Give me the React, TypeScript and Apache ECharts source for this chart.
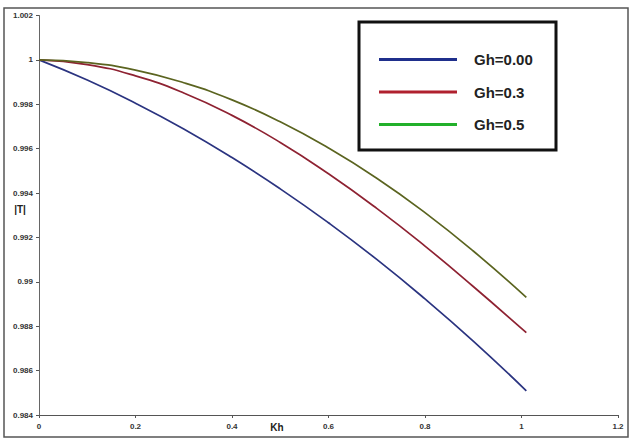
import React, { useEffect, useRef } from "react";
import * as echarts from "echarts";

const kh = [0, 0.1, 0.2, 0.3, 0.4, 0.5, 0.6, 0.7, 0.8, 0.9, 1.01];
const gh000 = [1, 0.99909, 0.99805, 0.99689, 0.9956, 0.99419, 0.99266, 0.99101, 0.98923, 0.98733, 0.98509];
const gh03 = [1, 0.99979, 0.99928, 0.99851, 0.9975, 0.99628, 0.99487, 0.99331, 0.99161, 0.98979, 0.98771];
const gh05 = [1, 0.99988, 0.99954, 0.99897, 0.9982, 0.99721, 0.99603, 0.99467, 0.99312, 0.99139, 0.9893];
const seriesNames = ["Gh=0.00", "Gh=0.3", "Gh=0.5"];
const lineColors = ["#2b3480", "#8e2232", "#5b6420"];
const legendColors = ["#1f2f8c", "#b0202e", "#22b02a"];

const fmt = (v: number) => String(parseFloat(v.toFixed(3)));

export default function App() {
  const ref = useRef<HTMLDivElement>(null);
  useEffect(() => {
    if (!ref.current) return;
    const chart = echarts.init(ref.current, undefined, { renderer: "svg" });
    const all = [gh000, gh03, gh05];
    const axisLabel = { fontSize: 8, fontWeight: "bold" as const, color: "#333", fontFamily: "Liberation Sans" };
    chart.setOption({
      animation: false,
      backgroundColor: "#ffffff",
      grid: { left: 39, right: 15, top: 15.5, bottom: 24 },
      xAxis: {
        type: "value",
        min: 0,
        max: 1.2,
        interval: 0.2,
        splitLine: { show: false },
        axisLine: { lineStyle: { color: "#555", width: 1 } },
        axisTick: { length: 3, lineStyle: { color: "#555" } },
        axisLabel: { ...axisLabel, margin: 7, formatter: (v: number) => fmt(v) },
      },
      yAxis: {
        type: "value",
        min: 0.984,
        max: 1.002,
        interval: 0.002,
        splitLine: { show: false },
        axisLine: { show: true, lineStyle: { color: "#666", width: 1 } },
        axisTick: { show: true, length: 3, lineStyle: { color: "#555" } },
        axisLabel: { ...axisLabel, margin: 6, formatter: (v: number) => fmt(v) },
      },
      legend: {
        left: 374,
        top: 47,
        orient: "vertical",
        itemWidth: 78,
        itemHeight: 3,
        itemGap: 17.5,
        icon: "rect",
        data: seriesNames.map((n, i) => ({ name: n, itemStyle: { color: legendColors[i] } })),
        textStyle: {
          fontSize: 15,
          fontWeight: "bold",
          color: "#222",
          fontFamily: "Liberation Sans",
          padding: [0, 0, 0, 12],
        },
      },
      graphic: [
        {
          type: "rect",
          shape: { x: 4, y: 8, width: 624, height: 429 },
          style: { fill: "none", stroke: "#555", lineWidth: 1.5 },
          z: 0,
          silent: true,
        },
        {
          type: "rect",
          shape: { x: 359, y: 22, width: 197, height: 128 },
          style: { fill: "#fff", stroke: "#111", lineWidth: 3 },
          z: 1,
          silent: true,
        },
        {
          type: "text",
          x: 20,
          y: 209,
          style: { text: "|T|", fontSize: 10, fontWeight: "bold", fill: "#222", align: "center", verticalAlign: "middle", fontFamily: "Liberation Sans" },
        },
        {
          type: "text",
          x: 277,
          y: 427,
          style: { text: "Kh", fontSize: 10, fontWeight: "bold", fill: "#222", align: "center", verticalAlign: "middle", fontFamily: "Liberation Sans" },
        },
      ],
      series: all.map((vals, i) => ({
        name: seriesNames[i],
        type: "line",
        smooth: true,
        showSymbol: false,
        data: kh.map((k, j) => [k, vals[j]]),
        lineStyle: { color: lineColors[i], width: 1.7 },
        itemStyle: { color: legendColors[i] },
      })),
    });
    return () => chart.dispose();
  }, []);
  return <div ref={ref} style={{ position: "fixed", left: 0, top: 0, width: 633, height: 439 }} />;
}
